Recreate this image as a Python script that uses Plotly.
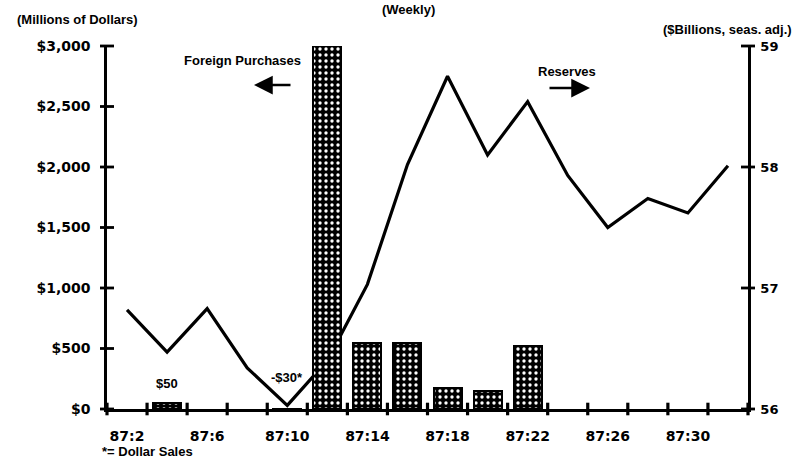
import plotly.graph_objects as go

# ---- data ----
week_labels = ["87:2", "87:6", "87:10", "87:14", "87:18", "87:22", "87:26", "87:30"]
label_weeks = [2, 6, 10, 14, 18, 22, 26, 30]
tick_weeks = list(range(1, 34, 2))

reserve_weeks = [2, 4, 6, 8, 10, 12, 14, 16, 18, 20, 22, 24, 26, 28, 30, 32]
reserves = [56.82, 56.47, 56.83, 56.34, 56.03, 56.40, 57.03, 58.02, 58.75, 58.10,
            58.54, 57.93, 57.50, 57.74, 57.62, 58.01]

bar_weeks = [4, 10, 12, 14, 16, 18, 20, 22]
purchases = [50, -30, 3000, 545, 545, 175, 150, 520]

left_vals = [0, 500, 1000, 1500, 2000, 2500, 3000]
left_text = ["$0", "$500", "$1,000", "$1,500", "$2,000", "$2,500", "$3,000"]
right_vals = [56, 57, 58, 59]

x_range = [1, 33]
left_range = [0, 3000]
right_range = [56, 59]

# ---- layout geometry ----
W, H = 807, 459
L, R, T, B = 107, 59, 46, 50
PW, PH = W - L - R, H - T - B


def px(x):
    return (x - L) / PW


def py(y):
    return (H - B - y) / PH


tickfont = dict(family="DejaVu Sans", size=14, color="black", weight="bold")
txtfont = dict(family="Liberation Sans", size=13, color="black", weight="bold")

fig = go.Figure()

fig.add_trace(go.Scatter(
    x=reserve_weeks, y=reserves, mode="lines",
    line=dict(color="black", width=3.2), xaxis="x", yaxis="y",
    showlegend=False, hoverinfo="skip"))

fig.add_trace(go.Bar(
    x=bar_weeks, y=purchases, width=1.4, xaxis="x", yaxis="y2",
    marker=dict(color="black", line=dict(color="black", width=2),
                pattern=dict(shape=".", fgcolor="white", bgcolor="black",
                             size=6, solidity=0.25, fillmode="replace")),
    showlegend=False, hoverinfo="skip"))

# crossing tick marks on the axes (derived from the tick lists and axis ranges)
fig.add_trace(go.Scatter(
    x=tick_weeks, y=[left_range[0]] * len(tick_weeks), mode="markers",
    xaxis="x", yaxis="y2", cliponaxis=False,
    marker=dict(symbol="line-ns", size=9, line=dict(width=3.2, color="black")),
    showlegend=False, hoverinfo="skip"))
fig.add_trace(go.Scatter(
    x=[x_range[0]] * len(left_vals), y=left_vals, mode="markers",
    xaxis="x", yaxis="y2", cliponaxis=False,
    marker=dict(symbol="line-ew", size=10, line=dict(width=2.8, color="black")),
    showlegend=False, hoverinfo="skip"))
fig.add_trace(go.Scatter(
    x=[x_range[1]] * len(right_vals), y=right_vals, mode="markers",
    xaxis="x", yaxis="y2" if False else "y", cliponaxis=False,
    marker=dict(symbol="line-ew", size=10, line=dict(width=2.8, color="black")),
    showlegend=False, hoverinfo="skip"))

fig.update_layout(
    width=W, height=H, margin=dict(l=L, r=R, t=T, b=B),
    paper_bgcolor="white", plot_bgcolor="white", bargap=0,
    xaxis=dict(range=x_range, tickvals=label_weeks, ticktext=week_labels,
               ticks="outside", ticklen=12, tickcolor="rgba(0,0,0,0)",
               showline=True, linecolor="black", linewidth=2.5,
               showgrid=False, zeroline=False, tickfont=tickfont,
               anchor="y"),
    yaxis=dict(range=right_range, side="right", tickvals=right_vals,
               ticks="", showline=True, linecolor="black", linewidth=2.5,
               showgrid=False, zeroline=False, anchor="x",
               tickfont=dict(family="DejaVu Sans", size=13, color="black",
                             weight="bold"),
               ticklabelstandoff=7),
    yaxis2=dict(range=left_range, side="left", overlaying="y", anchor="x",
                tickvals=left_vals, ticktext=left_text, ticks="",
                showline=True, linecolor="black", linewidth=2.5,
                showgrid=False, zeroline=False, tickfont=tickfont,
                ticklabelstandoff=11),
)

ann = [
    dict(text="(Millions of Dollars)", x=px(77), y=py(19), xanchor="center", yanchor="middle"),
    dict(text="(Weekly)", x=px(408), y=py(0), xanchor="center", yanchor="top"),
    dict(text="($Billions, seas. adj.)", x=px(727), y=py(29), xanchor="center", yanchor="middle"),
    dict(text="Foreign Purchases", x=px(242), y=py(61), xanchor="center", yanchor="middle"),
    dict(text="Reserves", x=px(567), y=py(71), xanchor="center", yanchor="middle"),
    dict(text="*= Dollar Sales", x=px(100), y=py(451), xanchor="left", yanchor="middle"),
]
for a in ann:
    fig.add_annotation(xref="paper", yref="paper", showarrow=False, font=txtfont, **a)

# value labels above small bars
fig.add_annotation(x=bar_weeks[0], y=0, xref="x", yref="y2", text="$50",
                   showarrow=False, yanchor="bottom", yshift=16, font=txtfont)
fig.add_annotation(x=bar_weeks[1], y=0, xref="x", yref="y2", text="-$30*",
                   showarrow=False, yanchor="bottom", yshift=22, font=txtfont)

# arrows
fig.add_annotation(xref="paper", yref="paper", x=px(254), y=py(85), ax=38, ay=0,
                   text="", showarrow=True, arrowhead=2, arrowsize=1.5,
                   arrowwidth=2.5, arrowcolor="black")
fig.add_annotation(xref="paper", yref="paper", x=px(590), y=py(88), ax=-42, ay=0,
                   text="", showarrow=True, arrowhead=2, arrowsize=1.5,
                   arrowwidth=2.5, arrowcolor="black")

fig.write_html("out.html", config={"displayModeBar": False},
               post_script="document.body.style.margin='0';")
